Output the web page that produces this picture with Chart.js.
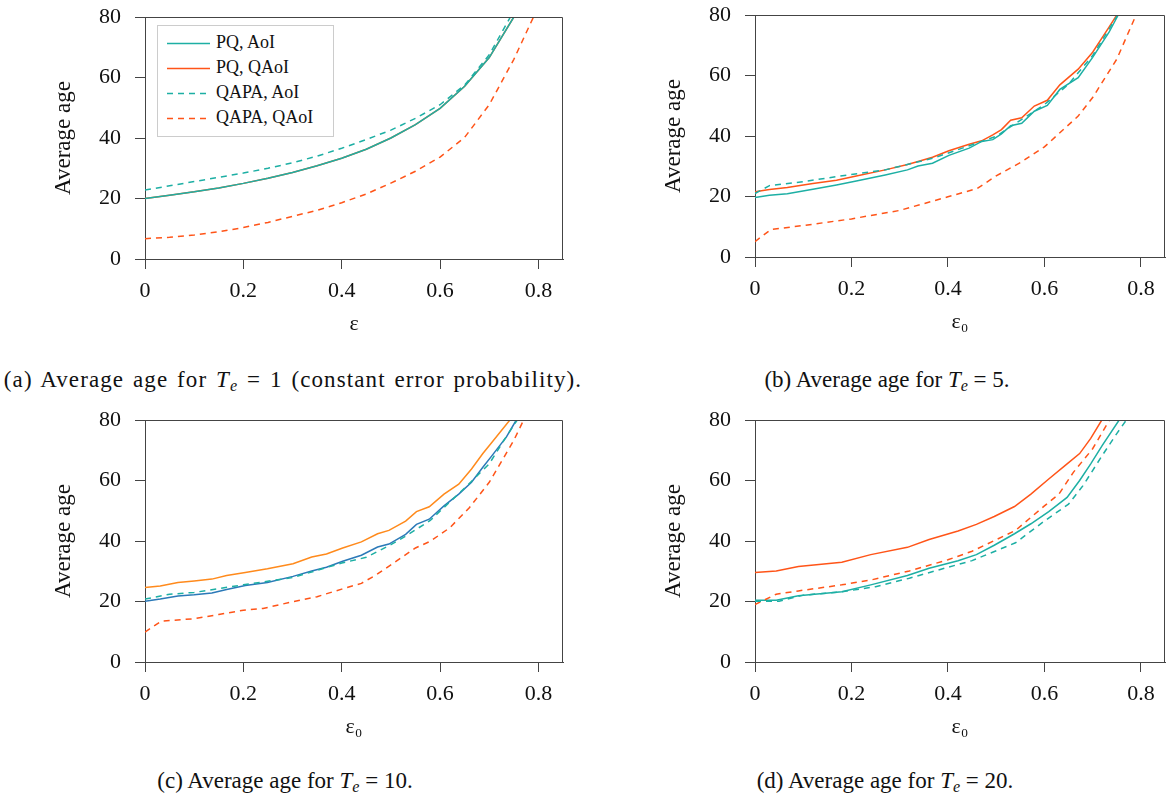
<!DOCTYPE html>
<html>
<head>
<meta charset="utf-8">
<script src="https://cdn.jsdelivr.net/npm/chart.js@4/dist/chart.umd.min.js"></script>
<style>
  html, body { margin: 0; padding: 0; background: #fff; }
  body { width: 1173px; height: 799px; position: relative; overflow: hidden; font-family: 'Liberation Serif', serif; }
  .panel { position: absolute; width: 521px; height: 334px; }
  .panel.right { width: 513px; }
  .caption { position: absolute; width: 700px; text-align: center; font-size: 23px; color: #111; line-height: 1; white-space: nowrap; }
  .caption sub { font-size: 70%; vertical-align: -0.25em; line-height: 0; }
  .caption.wide { letter-spacing: 1.1px; word-spacing: 2px; }
  .legend { position: absolute; left: 157px; top: 25px; width: 175px; height: 110px; border: 1px solid #ccc; background: #fff; }
  .legend .row { position: absolute; left: 9px; height: 22px; font-size: 18px; color: #111; }
  .legend .row svg { position: absolute; left: 0; top: 10px; }
  .legend .row span { position: absolute; left: 49px; top: 0; white-space: nowrap; }
</style>
</head>
<body>
<div class="panel" style="left:50px;top:5px"><canvas id="chartA"></canvas></div>
<div class="panel right" style="left:660px;top:3px"><canvas id="chartB"></canvas></div>
<div class="panel" style="left:50px;top:408px"><canvas id="chartC"></canvas></div>
<div class="panel right" style="left:660px;top:408px"><canvas id="chartD"></canvas></div>

<div class="legend" id="legendA"></div>

<div class="caption wide" style="left:-57px;top:368px">(a) Average age for <i>T<sub>e</sub></i> = 1 (constant error probability).</div>
<div class="caption" style="left:537px;top:368px">(b) Average age for <i>T<sub>e</sub></i> = 5.</div>
<div class="caption" style="left:-65px;top:769px">(c) Average age for <i>T<sub>e</sub></i> = 10.</div>
<div class="caption" style="left:535px;top:769px">(d) Average age for <i>T<sub>e</sub></i> = 20.</div>

<script>
'use strict';

// ---- data ----
var seriesNames = ['PQ, AoI', 'PQ, QAoI', 'QAPA, AoI', 'QAPA, QAoI'];
var xTicks = [0, 0.2, 0.4, 0.6, 0.8];
var yTicks = [0, 20, 40, 60, 80];

// (a) T_e = 1
var aPqX = [0, 0.05, 0.1, 0.15, 0.2, 0.25, 0.3, 0.35, 0.4, 0.45, 0.5, 0.55, 0.6, 0.65, 0.7, 0.75];
var aPqAoi = [20, 21.1, 22.2, 23.5, 25, 26.7, 28.6, 30.8, 33.3, 36.3, 40, 44.4, 49.8, 57.1, 66.6, 80];
var aPqQaoi = [20, 21.1, 22.2, 23.5, 25, 26.7, 28.6, 30.8, 33.3, 36.3, 40, 44.4, 49.8, 57.1, 66.6, 80];
var aQapaAoiX = [0, 0.05, 0.1, 0.15, 0.2, 0.25, 0.3, 0.35, 0.4, 0.45, 0.5, 0.55, 0.6, 0.65, 0.7, 0.743];
var aQapaAoi = [22.8, 24.2, 25.6, 27, 28.4, 30, 31.8, 34, 36.6, 39.5, 42.6, 46.5, 51, 57.5, 67.5, 80];
var aQapaQaoiX = [0, 0.05, 0.1, 0.15, 0.2, 0.25, 0.3, 0.35, 0.4, 0.45, 0.5, 0.55, 0.6, 0.65, 0.7, 0.75, 0.79];
var aQapaQaoi = [6.7, 7.2, 7.9, 9, 10.4, 12.1, 14.1, 16.1, 18.6, 21.5, 25.1, 29, 33.7, 40.2, 51, 66, 80];

// (b) T_e = 5
var bPqAoiX = [0, 0.03, 0.067, 0.12, 0.169, 0.21, 0.27, 0.316, 0.338, 0.368, 0.402, 0.444, 0.47, 0.493, 0.511, 0.53, 0.553, 0.579, 0.606, 0.632, 0.67, 0.7, 0.734, 0.753];
var bPqAoi = [19.7, 20.4, 20.9, 22.4, 23.8, 25.1, 27.1, 28.8, 30.1, 31, 33.6, 36, 38.2, 38.8, 40.7, 43.4, 44.2, 48.2, 50.1, 55.4, 59.3, 66, 74.3, 80];
var bPqQaoiX = [0, 0.03, 0.067, 0.12, 0.169, 0.21, 0.27, 0.316, 0.338, 0.368, 0.402, 0.444, 0.47, 0.493, 0.511, 0.53, 0.553, 0.579, 0.606, 0.632, 0.67, 0.7, 0.734, 0.75];
var bPqQaoi = [21.6, 22.3, 23, 24.3, 25.4, 26.8, 28.8, 30.6, 31.6, 33, 35.1, 37.3, 38.4, 40.4, 42.1, 45.2, 46, 49.9, 51.8, 56.9, 62.1, 67.7, 76, 80];
var bQapaAoiX = [0, 0.03, 0.1, 0.17, 0.27, 0.37, 0.45, 0.5, 0.55, 0.6, 0.65, 0.7, 0.73, 0.752];
var bQapaAoi = [21, 23.6, 24.9, 26.6, 28.8, 32.7, 37.1, 39.9, 45.2, 50.4, 57.1, 66.6, 74.3, 80];
var bQapaQaoiX = [0, 0.033, 0.1, 0.2, 0.3, 0.4, 0.46, 0.5, 0.55, 0.6, 0.67, 0.7, 0.75, 0.79];
var bQapaQaoi = [5.1, 9.1, 10.4, 12.6, 15.4, 19.9, 22.6, 26.8, 31.2, 36.4, 46.6, 52.7, 65.4, 80];

// (c) T_e = 10
var cPqAoiX = [0, 0.031, 0.067, 0.1, 0.136, 0.166, 0.204, 0.249, 0.301, 0.339, 0.369, 0.402, 0.44, 0.473, 0.496, 0.53, 0.552, 0.578, 0.608, 0.638, 0.664, 0.687, 0.706, 0.735, 0.755];
var cPqAoi = [20.1, 20.8, 21.8, 22.2, 22.8, 24, 25.3, 26.3, 28.3, 30.1, 31.3, 33.3, 35.3, 38, 39, 42.2, 45.5, 47.2, 51.6, 55.5, 59.4, 64.4, 68.3, 74.4, 80];
var cPqQaoiX = [0, 0.031, 0.067, 0.1, 0.136, 0.166, 0.204, 0.249, 0.301, 0.339, 0.369, 0.402, 0.44, 0.473, 0.496, 0.53, 0.552, 0.578, 0.608, 0.638, 0.664, 0.687, 0.706, 0.742];
var cPqQaoi = [24.6, 25.1, 26.3, 26.8, 27.4, 28.6, 29.6, 30.8, 32.5, 34.7, 35.7, 37.7, 39.7, 42.4, 43.5, 46.6, 49.7, 51.3, 55.5, 58.8, 63.8, 68.9, 72.7, 80];
var cQapaAoiX = [0, 0.05, 0.1, 0.2, 0.3, 0.4, 0.45, 0.5, 0.53, 0.58, 0.65, 0.7, 0.73, 0.75, 0.757];
var cQapaAoi = [20.8, 22.4, 23, 25.5, 27.9, 32.7, 34.6, 38.8, 41.6, 46.8, 57.5, 65.5, 73.3, 78.3, 80];
var cQapaQaoiX = [0, 0.033, 0.1, 0.15, 0.2, 0.24, 0.3, 0.35, 0.4, 0.44, 0.47, 0.5, 0.55, 0.58, 0.62, 0.66, 0.7, 0.73, 0.75, 0.77];
var cQapaQaoi = [9.9, 13.5, 14.3, 15.7, 17.1, 17.7, 19.9, 21.6, 24.1, 26, 28.8, 32.1, 37.7, 39.9, 44.4, 51.1, 59.4, 67.7, 73.3, 80];

// (d) T_e = 20
var dPqAoiX = [0, 0.044, 0.09, 0.18, 0.24, 0.316, 0.361, 0.421, 0.459, 0.496, 0.538, 0.572, 0.609, 0.647, 0.673, 0.696, 0.72, 0.755];
var dPqAoi = [20.4, 20.4, 21.9, 23.2, 25.5, 28.6, 31, 33.5, 35.5, 38.6, 42.4, 45.7, 49.7, 54.4, 60, 65.5, 71.6, 80];
var dPqQaoiX = [0, 0.044, 0.09, 0.18, 0.24, 0.316, 0.361, 0.421, 0.459, 0.496, 0.538, 0.572, 0.609, 0.647, 0.673, 0.696, 0.719];
var dPqQaoi = [29.6, 30.1, 31.6, 33, 35.5, 37.9, 40.5, 43.3, 45.5, 48.1, 51.4, 55.5, 60.5, 65.5, 68.9, 73.9, 80];
var dQapaAoiX = [0, 0.05, 0.1, 0.18, 0.25, 0.32, 0.4, 0.45, 0.54, 0.6, 0.65, 0.68, 0.72, 0.75, 0.77];
var dQapaAoi = [20.1, 20.1, 22.1, 23.2, 24.9, 27.7, 31.3, 33.5, 39.4, 46.6, 52.2, 58.3, 68.3, 75.5, 80];
var dQapaQaoiX = [0, 0.044, 0.09, 0.18, 0.24, 0.32, 0.4, 0.45, 0.54, 0.6, 0.63, 0.66, 0.7, 0.735];
var dQapaQaoi = [19, 22.4, 23.5, 25.5, 27.1, 30.1, 33.8, 36.6, 43.5, 51.6, 55.5, 62.7, 70.5, 80];

// ---- styling ----
var TEAL = '#1DAFA4';
var RED_ORANGE = '#FF5418';
var BLUE = '#2B79B8';
var ORANGE = '#FF8A1C';
var DASH = [6, 5];
var AXIS = '#444';
var FONT = "'Liberation Serif', 'Times New Roman', serif";

function pts(xs, ys) {
  return xs.map(function (x, i) { return { x: x, y: ys[i] }; });
}

function ds(label, xs, ys, color, dashed) {
  return {
    label: label,
    data: pts(xs, ys),
    borderColor: color,
    backgroundColor: color,
    borderWidth: 1.5,
    borderDash: dashed ? DASH : [],
    pointRadius: 0,
    tension: 0,
    fill: false
  };
}

// top and right edges of the axes box
var boxPlugin = {
  id: 'box',
  afterDraw: function (chart) {
    var a = chart.chartArea, ctx = chart.ctx;
    ctx.save();
    ctx.strokeStyle = AXIS;
    ctx.lineWidth = 1;
    ctx.beginPath();
    ctx.moveTo(a.left, a.top + 0.5);
    ctx.lineTo(a.right - 0.5, a.top + 0.5);
    ctx.lineTo(a.right - 0.5, a.bottom);
    ctx.stroke();
    ctx.restore();
  }
};

function makeChart(id, xTitle, datasets) {
  return new Chart(document.getElementById(id), {
    type: 'line',
    data: { datasets: datasets },
    plugins: [boxPlugin],
    options: {
      responsive: true,
      maintainAspectRatio: false,
      animation: false,
      layout: { padding: { top: 12, right: 8, left: 0, bottom: 0 } },
      plugins: { legend: { display: false }, tooltip: { enabled: false } },
      scales: {
        x: {
          type: 'linear',
          min: 0,
          max: 0.85,
          afterFit: function (s) { s.height = 80; s.paddingLeft = 0; s.paddingRight = 0; },
          afterBuildTicks: function (s) { s.ticks = xTicks.map(function (v) { return { value: v }; }); },
          grid: { drawOnChartArea: false, drawTicks: true, tickLength: 10, color: AXIS, lineWidth: 1 },
          border: { display: true, color: AXIS, width: 1 },
          ticks: {
            color: '#111',
            padding: 9,
            maxRotation: 0,
            font: { family: FONT, size: 22 },
            callback: function (v) { return v === 0 ? '0' : v.toFixed(1); }
          },
          title: { display: true, text: xTitle, color: '#111', padding: { top: 0, bottom: 2 }, font: { family: FONT, size: 22 } }
        },
        y: {
          min: 0,
          max: 80,
          afterFit: function (s) { s.width = 95; s.paddingTop = 0; s.paddingBottom = 0; },
          afterBuildTicks: function (s) { s.ticks = yTicks.map(function (v) { return { value: v }; }); },
          grid: { drawOnChartArea: false, drawTicks: true, tickLength: 10, color: AXIS, lineWidth: 1 },
          border: { display: true, color: AXIS, width: 1 },
          ticks: { color: '#111', padding: 14, font: { family: FONT, size: 22 } },
          title: { display: true, text: 'Average age', color: '#111', padding: { top: 0, bottom: 0 }, font: { family: FONT, size: 23 } }
        }
      }
    }
  });
}

function drawAll() {
  makeChart('chartA', 'ε', [
    ds(seriesNames[2], aQapaAoiX, aQapaAoi, TEAL, true),
    ds(seriesNames[3], aQapaQaoiX, aQapaQaoi, RED_ORANGE, true),
    ds(seriesNames[0], aPqX, aPqAoi, TEAL, false),
    ds(seriesNames[1], aPqX, aPqQaoi, RED_ORANGE, false)
  ]);

  makeChart('chartB', 'ε₀', [
    ds(seriesNames[2], bQapaAoiX, bQapaAoi, TEAL, true),
    ds(seriesNames[3], bQapaQaoiX, bQapaQaoi, RED_ORANGE, true),
    ds(seriesNames[0], bPqAoiX, bPqAoi, TEAL, false),
    ds(seriesNames[1], bPqQaoiX, bPqQaoi, RED_ORANGE, false)
  ]);

  makeChart('chartC', 'ε₀', [
    ds(seriesNames[2], cQapaAoiX, cQapaAoi, TEAL, true),
    ds(seriesNames[3], cQapaQaoiX, cQapaQaoi, RED_ORANGE, true),
    ds(seriesNames[0], cPqAoiX, cPqAoi, BLUE, false),
    ds(seriesNames[1], cPqQaoiX, cPqQaoi, ORANGE, false)
  ]);

  makeChart('chartD', 'ε₀', [
    ds(seriesNames[2], dQapaAoiX, dQapaAoi, TEAL, true),
    ds(seriesNames[3], dQapaQaoiX, dQapaQaoi, RED_ORANGE, true),
    ds(seriesNames[0], dPqAoiX, dPqAoi, TEAL, false),
    ds(seriesNames[1], dPqQaoiX, dPqQaoi, RED_ORANGE, false)
  ]);
}

// legend of panel (a), built from the same names / styles
(function () {
  var box = document.getElementById('legendA');
  var colors = [TEAL, RED_ORANGE, TEAL, RED_ORANGE];
  var dashed = [false, false, true, true];
  seriesNames.forEach(function (name, i) {
    var row = document.createElement('div');
    row.className = 'row';
    row.style.top = (6 + i * 25) + 'px';
    row.innerHTML = '<svg width="43" height="3"><line x1="0" y1="1.5" x2="43" y2="1.5" stroke="' + colors[i] +
      '" stroke-width="1.5"' + (dashed[i] ? ' stroke-dasharray="' + DASH.join(',') + '"' : '') + '/></svg><span>' + name + '</span>';
    box.appendChild(row);
  });
})();

// canvas text only uses the serif face once it is loaded
Promise.all([
  document.fonts.load("22px 'Liberation Serif'"),
  document.fonts.load("italic 22px 'Liberation Serif'")
]).then(drawAll, drawAll);
</script>
</body>
</html>
